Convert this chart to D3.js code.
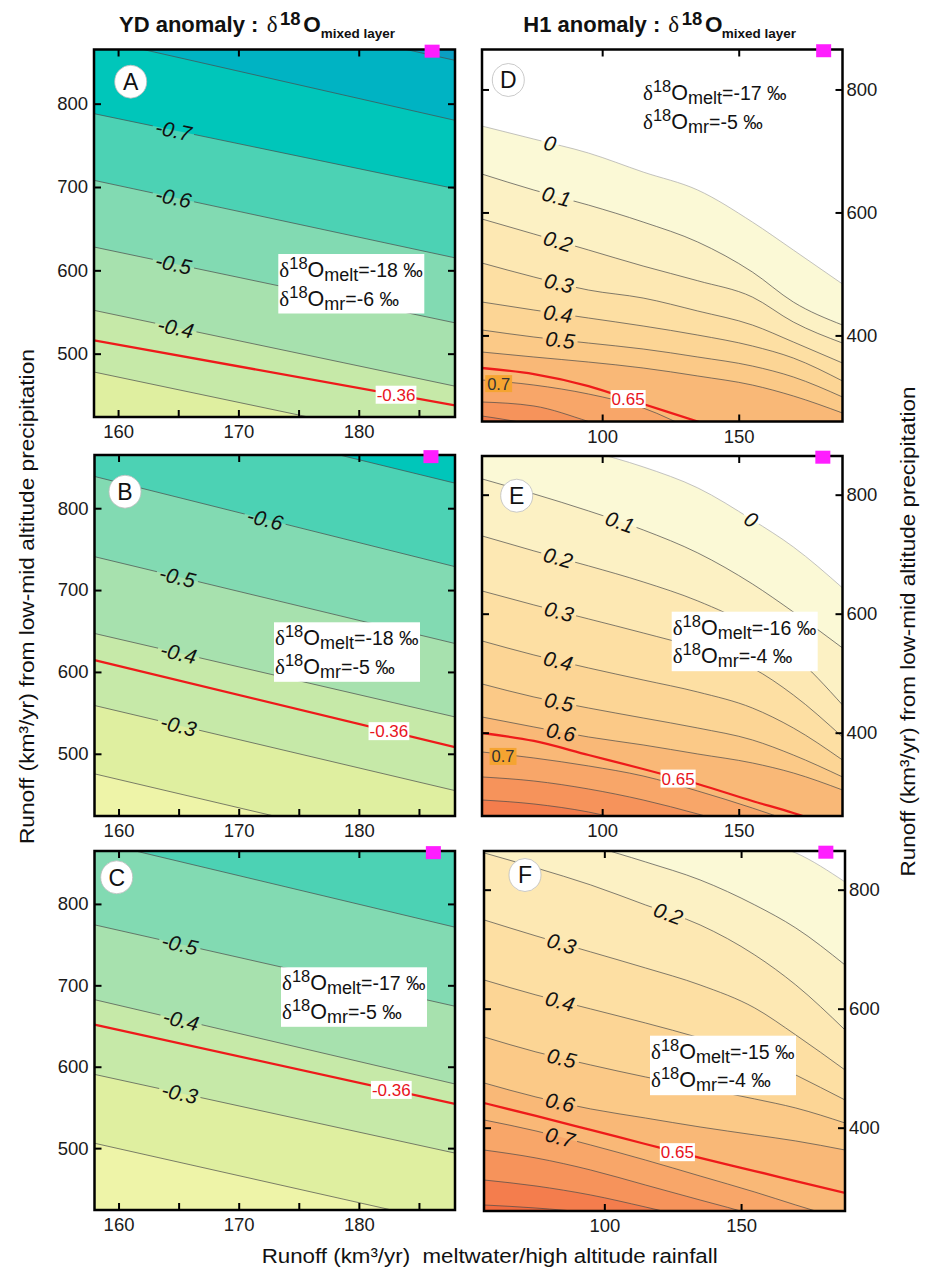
<!DOCTYPE html>
<html><head><meta charset="utf-8">
<script src="https://cdn.jsdelivr.net/npm/d3@7"></script>
<style>
body{margin:0;background:#fff}
svg{display:block}
text{font-family:"Liberation Sans",Arial,Helvetica,sans-serif}
</style>
</head><body>
<svg id="chart" width="927" height="1272"></svg>
<script>
// ================= DATA =================
// x sample positions of the digitised contour lines
const ydX = [158, 188];
const h1X = [56, 75, 95, 115, 135, 155, 170, 188];

// contour levels (bands)
const ydLevels = [-0.9, -0.8, -0.7, -0.6, -0.5, -0.4, -0.3, -0.2];
const h1Levels = [0, 0.1, 0.2, 0.3, 0.4, 0.5, 0.6, 0.7, 0.8, 0.9, 1.0];

// each row: [level, y at each x sample]  (runoff low-mid altitude, km3/yr)
const panelA = [
  [-0.9, 948, 852],
  [-0.8, 878.4, 780],
  [-0.7, 788, 698],
  [-0.6, 708, 615],
  [-0.5, 628, 537],
  [-0.4, 552, 461],
  [-0.36, 516, 438],
  [-0.3, 478, 387]
];
const panelB = [
  [-0.7, 938, 830.6],
  [-0.6, 838.8, 728.6],
  [-0.5, 740.8, 634.7],
  [-0.4, 647, 545],
  [-0.36, 614.3, 508.2],
  [-0.3, 559, 455],
  [-0.2, 475.5, 372]
];
const panelC = [
  [-0.6, 877, 771.4],
  [-0.5, 774.3, 674.3],
  [-0.4, 682.4, 578.8],
  [-0.36, 651.8, 554.3],
  [-0.3, 590.6, 493.9],
  [-0.2, 506, 406.5]
];
const panelD = [
  [0, 740.5, 719.3, 696.6, 665.7, 636.4, 584.4, 538.9, 483.6],
  [0.1, 662.4, 636.4, 612.0, 584.4, 551.9, 503.1, 454.3, 416.9],
  [0.2, 589.3, 564.9, 538.9, 512.8, 488.9, 462.4, 421.8, 387.6],
  [0.3, 517.7, 495.0, 473.8, 460.8, 439.7, 416.9, 389.3, 355.1],
  [0.4, 454.3, 441.3, 428.3, 415.3, 400.6, 382.8, 363.2, 325.9],
  [0.5, 408.8, 397.4, 387.6, 377.9, 364.9, 350.2, 332.4, 299.8],
  [0.6, 373.0, 364.9, 356.7, 347.0, 334.0, 319.3, 301.5, 273.8],
  [0.65, 347.0, 337.2, 317.7, 288.5, 260.0, 229.9, 205.5, 173.0],
  [0.7, 327.5, 319.3, 304.7, 282.0, 242.9, 205.5, 173.0, 132.4],
  [0.8, 291.7, 285.2, 260.0, 229.9, 197.4, 164.9, 132.4, 83.6],
  [0.9, 268.9, 254.3, 229.9, 197.4, 164.9, 132.4, 99.8, 59.2]
];
const panelE = [
  [0, 917.3, 897.1, 873.6, 846.7, 811.4, 757.6, 712.2, 643.3],
  [0.1, 826.5, 801.3, 772.7, 740.8, 702.1, 650.0, 602.9, 542.4],
  [0.2, 730.7, 705.5, 680.3, 653.4, 621.4, 577.7, 530.6, 446.6],
  [0.3, 638.2, 614.7, 591.2, 567.6, 542.4, 508.8, 463.4, 392.8],
  [0.4, 554.2, 530.6, 508.8, 488.6, 468.4, 441.5, 407.9, 354.1],
  [0.5, 481.9, 460.0, 441.5, 424.7, 407.9, 387.8, 362.5, 325.6],
  [0.6, 426.4, 409.6, 392.8, 379.4, 364.2, 349.1, 332.3, 303.7],
  [0.65, 399.5, 386.1, 362.5, 339.0, 313.8, 285.2, 265.0, 236.5],
  [0.7, 367.6, 357.5, 344.1, 327.2, 302.0, 273.4, 249.9, 219.7],
  [0.8, 325.6, 318.8, 305.4, 286.9, 263.4, 236.5, 211.3, 177.6],
  [0.9, 286.9, 280.2, 266.7, 244.9, 219.7, 186.0, 160.8, 127.2]
];
const panelF = [
  [0, 1018.1, 992.9, 967.7, 937.4, 908.9, 883.7, 861.8, 813.0],
  [0.1, 930.7, 908.9, 875.2, 846.7, 816.4, 774.4, 735.7, 673.5],
  [0.2, 861.8, 836.6, 808.0, 774.4, 740.8, 690.3, 639.9, 564.3],
  [0.3, 749.2, 722.3, 695.4, 668.5, 639.9, 601.2, 555.9, 497.0],
  [0.4, 648.3, 623.1, 599.6, 576.0, 550.8, 522.2, 488.6, 446.6],
  [0.5, 552.5, 527.3, 505.4, 485.3, 466.8, 448.3, 433.1, 407.9],
  [0.6, 475.2, 451.6, 431.5, 416.3, 401.2, 387.8, 377.7, 362.5],
  [0.65, 441.5, 419.7, 396.2, 372.6, 349.1, 327.2, 310.4, 290.3],
  [0.7, 413.0, 394.5, 370.9, 345.7, 318.8, 291.9, 270.1, 244.9],
  [0.8, 362.5, 349.1, 328.9, 303.7, 278.5, 253.3, 231.4, 202.8],
  [0.9, 312.1, 302.0, 286.9, 266.7, 244.9, 219.7, 197.8, 169.2],
  [1.0, 270.1, 265.0, 256.6, 241.5, 219.7, 194.4, 174.3, 144.0]
];

// contour labels: [level, x position of label]
const labelsA = [[-0.7, 164.6], [-0.6, 164.6], [-0.5, 164.6], [-0.4, 164.8]];
const labelsB = [[-0.6, 172.2], [-0.5, 164.9], [-0.4, 165.0], [-0.3, 165.0]];
const labelsC = [[-0.5, 165.1], [-0.4, 165.2], [-0.3, 165.1]];
const labelsD = [[0, 80.9], [0.1, 83.3], [0.2, 83.9], [0.3, 84.2], [0.4, 83.8], [0.5, 84.6]];
const labelsE = [[0.1, 106.5], [0, 154.6], [0.2, 83.9], [0.3, 84.2], [0.4, 83.9], [0.5, 84.2], [0.6, 84.9]];
const labelsF = [[0.2, 123.4], [0.3, 84.4], [0.4, 83.8], [0.5, 84.4], [0.6, 83.8], [0.7, 83.8]];

// highlighted (observed) anomaly per panel and x of its label
const highlightValues = [-0.36, -0.36, -0.36, 0.65, 0.65, 0.65];
const highlightLabelX = [183.1, 182.5, 182.7, 109.5, 127.8, 126.7];
// boxed 0.7 label x (panels D, E)
const boxedLabelX = [null, null, null, 62.1, 63.7, null];

// isotope assumptions per panel
const meltValues = [-18, -18, -17, -17, -16, -15];
const mrValues = [-6, -5, -5, -5, -4, -4];

// magenta marker (x, y) per panel
const markers = [[186.1, 863], [186.0, 863], [186.2, 863], [181.1, 863], [180.8, 863], [181.0, 863]];

const panelLetters = ['A', 'B', 'C', 'D', 'E', 'F'];
const ydXTicks = [160, 170, 180];
const ydXMinorTicks = [160, 165, 170, 175, 180, 185];
const ydYTicks = [500, 600, 700, 800];
const h1XTicks = [100, 150];
const h1YTicks = [400, 600, 800];

// ================= STYLE / LAYOUT =================
const ydBandColors = ['#0a9fc2', '#00b3c3', '#00c6ba', '#4cd2b4', '#82dab2', '#a7e1ae', '#c6e9a8', '#dfefa0', '#eef4a8'];
const h1BandColors = ['#ffffff', '#fbf9d6', '#fcf1c4', '#fde8b3', '#fddfa3', '#fcd595', '#fbc987', '#f9b877', '#f8a669', '#f6935b', '#f47d4d', '#f26b40'];

const W = 927, H = 1272;
const svg = d3.select('#chart');
const defs = svg.append('defs');

const layouts = [
  {rect: [94, 49.5, 455, 417],   letter: [36.7, 32.2], box: [184.3, 204.5]},
  {rect: [94.5, 455, 455, 816],  letter: [30.5, 36.7], box: [179.5, 167.3]},
  {rect: [94.5, 851, 455, 1210], letter: [22.2, 26.3], box: [186.5, 116.3]},
  {rect: [482, 49.5, 842.5, 421.5], letter: [26.3, 30.5], box: [160, 27.8]},
  {rect: [482, 456, 842.5, 816],    letter: [34.7, 39.7], box: [189.7, 155.7]},
  {rect: [484, 851, 845, 1211],     letter: [41, 24],     box: [166, 184.7]}
];
const panelLines = [panelA, panelB, panelC, panelD, panelE, panelF];
const panelLabels = [labelsA, labelsB, labelsC, labelsD, labelsE, labelsF];

function fmt(v) { return (Math.round(v * 100) / 100).toString(); }

function drawPanel(i) {
  const isYD = i < 3;
  const L = layouts[i];
  const [x0, y0, x1, y1] = L.rect;
  const xs = isYD ? ydX : h1X;
  const levels = isYD ? ydLevels : h1Levels;
  const colors = isYD ? ydBandColors : h1BandColors;
  const x = d3.scaleLinear().domain(isYD ? [158, 188] : [56, 188]).range([x0, x1]);
  const y = d3.scaleLinear().domain(isYD ? [424, 865] : [260, 865]).range([y1, y0]);
  const id = panelLetters[i];
  const hl = highlightValues[i];
  const lines = panelLines[i];
  const same = (a, b) => Math.abs(a - b) < 1e-9;
  const idx = v => levels.findIndex(l => same(l, v));

  defs.append('clipPath').attr('id', 'clip' + id)
    .append('rect').attr('x', x0).attr('y', y0).attr('width', x1 - x0).attr('height', y1 - y0);
  const mask = defs.append('mask').attr('id', 'mask' + id)
    .attr('maskUnits', 'userSpaceOnUse').attr('x', 0).attr('y', 0).attr('width', W).attr('height', H);
  mask.append('rect').attr('x', 0).attr('y', 0).attr('width', W).attr('height', H).attr('fill', 'white');

  const g = svg.append('g');
  const fg = g.append('g').attr('clip-path', `url(#clip${id})`);

  const bands = lines.filter(l => !same(l[0], hl)).sort((a, b) => a[0] - b[0]);
  fg.append('rect').attr('x', x0).attr('y', y0).attr('width', x1 - x0).attr('height', y1 - y0)
    .attr('fill', colors[idx(bands[0][0])]);
  const area = d3.area().x((d, k) => x(xs[k])).y0(y1 + 100).y1(d => y(d)).curve(d3.curveMonotoneX);
  const line = d3.line().x((d, k) => x(xs[k])).y(d => y(d)).curve(d3.curveMonotoneX);
  bands.forEach(l => {
    fg.append('path').attr('d', area(l.slice(1))).attr('fill', colors[idx(l[0]) + 1]);
  });
  const lg = fg.append('g').attr('mask', `url(#mask${id})`);
  bands.forEach(l => {
    lg.append('path').attr('d', line(l.slice(1))).attr('fill', 'none')
      .attr('stroke', (!isYD && same(l[0], 0)) ? '#a9a9a9' : '#4a4a4a')
      .attr('stroke-width', 0.7);
  });
  const hlLine = lines.find(l => same(l[0], hl));
  fg.append('path').attr('d', line(hlLine.slice(1))).attr('fill', 'none')
    .attr('stroke', '#ee1a1a').attr('stroke-width', 2.3);

  function yAt(row, xv) {
    const vals = row.slice(1);
    for (let k = 0; k < xs.length - 1; k++) {
      if (xv >= xs[k] && xv <= xs[k + 1]) {
        const t = (xv - xs[k]) / (xs[k + 1] - xs[k]);
        return vals[k] + t * (vals[k + 1] - vals[k]);
      }
    }
    return vals[vals.length - 1];
  }

  // contour labels
  const labG = g.append('g');
  panelLabels[i].forEach(([lev, xv]) => {
    const row = lines.find(l => same(l[0], lev));
    const px = x(xv), py = y(yAt(row, xv));
    const pa = [x(xv - 1), y(yAt(row, xv - 1))], pb = [x(xv + 1), y(yAt(row, xv + 1))];
    const ang = Math.atan2(pb[1] - pa[1], pb[0] - pa[0]) * 180 / Math.PI;
    const t = labG.append('text').attr('transform', `translate(${px},${py}) rotate(${ang})`)
      .attr('text-anchor', 'middle').attr('dy', '0.36em')
      .attr('font-size', 21).attr('font-style', 'italic').attr('fill', '#111')
      .text(fmt(lev));
    const w = t.node().getComputedTextLength();
    mask.append('rect').attr('transform', `translate(${px},${py}) rotate(${ang})`)
      .attr('x', -w / 2 - 3).attr('y', -9).attr('width', w + 6).attr('height', 18).attr('fill', 'black');
  });

  // highlighted value label (red, white box)
  {
    const xv = highlightLabelX[i];
    const px = x(xv), py = y(yAt(hlLine, xv));
    const rg = g.append('g');
    const r = rg.append('rect').attr('fill', 'white');
    const t = rg.append('text').attr('x', px).attr('y', py).attr('dy', '0.36em')
      .attr('text-anchor', 'middle').attr('font-size', 17).attr('fill', '#e8141c').text(fmt(hl));
    const w = t.node().getComputedTextLength();
    r.attr('x', px - w / 2 - 1).attr('y', py - 9).attr('width', w + 2).attr('height', 18);
  }
  // boxed 0.7 label
  if (boxedLabelX[i] !== null) {
    const xv = boxedLabelX[i];
    const row = lines.find(l => same(l[0], 0.7));
    const px = x(xv), py = y(yAt(row, xv)) + 2;
    const bg = g.append('g');
    const r = bg.append('rect').attr('fill', '#f5a431');
    const t = bg.append('text').attr('x', px).attr('y', py).attr('dy', '0.36em')
      .attr('text-anchor', 'middle').attr('font-size', 16.5).attr('fill', '#333').text('0.7');
    const w = t.node().getComputedTextLength();
    r.attr('x', px - w / 2 - 2).attr('y', py - 8.5).attr('width', w + 4).attr('height', 17);
  }

  // annotation box
  {
    const bx = x0 + L.box[0], by = y0 + L.box[1];
    g.append('rect').attr('x', bx).attr('y', by).attr('width', 146).attr('height', 59.5).attr('fill', 'white');
    const iso = (yb, sub, val) => {
      const t = g.append('text').attr('x', bx + 1).attr('y', yb).attr('fill', '#111');
      t.append('tspan').style('font-family', '"Liberation Serif","DejaVu Serif",serif').attr('font-size', 21).text('δ');
      t.append('tspan').attr('font-size', 16.5).attr('dy', -8).text('18');
      t.append('tspan').attr('font-size', 21.5).attr('dy', 8).text('O');
      t.append('tspan').attr('font-size', 18).attr('dy', 4).text(sub);
      t.append('tspan').attr('font-size', 19.5).attr('dy', -4).text(`=${val} ‰`);
    };
    iso(by + 23, 'melt', meltValues[i]);
    iso(by + 51.5, 'mr', mrValues[i]);
  }

  // frame
  g.append('rect').attr('x', x0).attr('y', y0).attr('width', x1 - x0).attr('height', y1 - y0)
    .attr('fill', 'none').attr('stroke', '#000').attr('stroke-width', 2.5);

  // axes
  const ax = g.append('g');
  const styleTicks = s => { s.select('.domain').remove(); s.selectAll('line').attr('stroke', '#000').attr('stroke-width', 2); };
  const styleLabels = s => { s.select('.domain').remove(); s.selectAll('text').attr('font-size', 18.5).attr('fill', '#1a1a1a').style('font-family', '"Liberation Sans",Arial,sans-serif'); };
  const xT = isYD ? ydXTicks : h1XTicks;
  const yT = isYD ? ydYTicks : h1YTicks;
  ax.append('g').attr('transform', `translate(0,${y0})`).call(d3.axisTop(x).tickValues(xT).tickSize(-7).tickFormat('')).call(styleTicks);
  ax.append('g').attr('transform', `translate(0,${y1})`).call(d3.axisBottom(x).tickValues(isYD ? ydXMinorTicks : h1XTicks).tickSize(-7).tickFormat('')).call(styleTicks);
  ax.append('g').attr('transform', `translate(${x0},0)`).call(d3.axisLeft(y).tickValues(yT).tickSize(-7).tickFormat('')).call(styleTicks);
  ax.append('g').attr('transform', `translate(${x1},0)`).call(d3.axisRight(y).tickValues(yT).tickSize(-7).tickFormat('')).call(styleTicks);
  ax.append('g').attr('transform', `translate(0,${y1})`).call(d3.axisBottom(x).tickValues(xT).tickSize(0).tickPadding(8)).call(styleLabels);
  if (isYD) {
    ax.append('g').attr('transform', `translate(${x0},0)`).call(d3.axisLeft(y).tickValues(yT).tickSize(0).tickPadding(6)).call(styleLabels);
  } else {
    ax.append('g').attr('transform', `translate(${x1},0)`).call(d3.axisRight(y).tickValues(yT).tickSize(0).tickPadding(4)).call(styleLabels);
  }

  // panel letter
  const cx = x0 + L.letter[0], cy = y0 + L.letter[1];
  g.append('ellipse').attr('cx', cx).attr('cy', cy).attr('rx', 16).attr('ry', 16.5)
    .attr('fill', 'white').attr('stroke', '#bdbdbd').attr('stroke-width', 0.8);
  g.append('text').attr('x', cx).attr('y', cy).attr('dy', '0.36em').attr('text-anchor', 'middle')
    .attr('font-size', 23).attr('fill', '#111').text(id);

  // magenta marker
  const [mx, my] = markers[i];
  g.append('rect').attr('x', x(mx) - 7.5).attr('y', y(my) - 6.5).attr('width', 15).attr('height', 13).attr('fill', '#ff1eff');
}

for (let i = 0; i < 6; i++) drawPanel(i);

// titles
function title(xs, text) {
  const t = svg.append('text').attr('fill', '#111').attr('font-weight', 'bold');
  t.append('tspan').attr('x', xs[0]).attr('y', 31.7).attr('font-size', 22).text(text);
  t.append('tspan').attr('x', xs[1]).attr('y', 31.7).attr('font-size', 23).attr('font-weight', 'normal')
    .style('font-family', '"Liberation Serif","DejaVu Serif",serif').text('δ');
  t.append('tspan').attr('x', xs[2]).attr('y', 25).attr('font-size', 18.5).text('18');
  t.append('tspan').attr('x', xs[3]).attr('y', 31.7).attr('font-size', 22.5).text('O');
  t.append('tspan').attr('x', xs[4]).attr('y', 37.5).attr('font-size', 13.5).text('mixed layer');
}
title([119, 266.7, 280, 303.3, 320.7], 'YD anomaly :');
title([523.3, 668.3, 681.7, 705, 721.7], 'H1 anomaly :');

// axis titles
const yTitle = 'Runoff (km³/yr) from low-mid altitude precipitation';
svg.append('text').attr('transform', 'translate(33.5,596.6) rotate(-90)').attr('text-anchor', 'middle')
  .attr('font-size', 20.5).attr('fill', '#111').attr('textLength', 495).attr('lengthAdjust', 'spacingAndGlyphs').text(yTitle);
svg.append('text').attr('transform', 'translate(915,631.5) rotate(-90)').attr('text-anchor', 'middle')
  .attr('font-size', 20.5).attr('fill', '#111').attr('textLength', 490).attr('lengthAdjust', 'spacingAndGlyphs').text(yTitle);
svg.append('text').attr('x', 261.7).attr('y', 1263).style('white-space', 'pre')
  .attr('font-size', 20.5).attr('fill', '#111').attr('textLength', 456).attr('lengthAdjust', 'spacingAndGlyphs')
  .text('Runoff (km³/yr)  meltwater/high altitude rainfall');
</script>
</body></html>
